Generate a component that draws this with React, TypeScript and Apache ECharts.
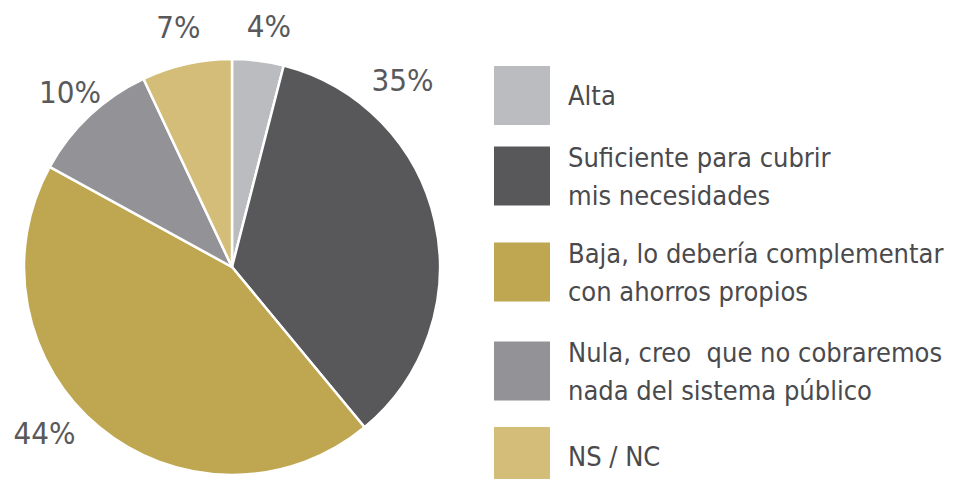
import React, { useEffect, useRef } from "react";
import * as echarts from "echarts";

const categories = [
  "Alta",
  "Suficiente para cubrir\nmis necesidades",
  "Baja, lo debería complementar\ncon ahorros propios",
  "Nula, creo  que no cobraremos\nnada del sistema público",
  "NS / NC",
];
const values = [4, 35, 44, 10, 7];
const colors = ["#bbbcc0", "#58585b", "#bfa651", "#939397", "#d3bd78"];
const legendTops = [64, 138, 234, 333, 425];

const FONT = "'DejaVu Sans Condensed', 'Liberation Sans Narrow', sans-serif";

export default function App() {
  const ref = useRef<HTMLDivElement>(null);
  useEffect(() => {
    document.body.style.margin = "0";
    const chart = echarts.init(ref.current!, null, { renderer: "svg" });
    const data = categories.map((name, i) => ({
      name,
      value: values[i],
      itemStyle: { color: colors[i] },
    }));
    const labelShift: Record<number, [number, number]> = {
      0: [6, 3],
      1: [-69, -133],
      2: [-31, -23],
      3: [6, 4],
    };
    chart.setOption({
      animation: false,
      legend: categories.map((name, i) => ({
        data: [name],
        orient: "vertical",
        left: 492,
        top: legendTops[i],
        padding: 0,
        icon: "rect",
        itemWidth: 58,
        itemHeight: 61,
        selectedMode: false,
        textStyle: {
          fontFamily: FONT,
          fontSize: 27,
          lineHeight: 38,
          color: "#4a4a4c",
          padding: [0, 0, 0, 12],
        },
      })),
      series: [
        {
          type: "pie",
          center: [232, 267],
          radius: 208,
          startAngle: 90,
          clockwise: true,
          data,
          label: { show: false },
          labelLine: { show: false },
          itemStyle: { borderColor: "#ffffff", borderWidth: 2.5 },
          emphasis: { disabled: true },
        },
        {
          type: "pie",
          center: [232, 267],
          radius: [225, 260],
          startAngle: 90,
          clockwise: true,
          silent: true,
          legendHoverLink: false,
          data: categories.map((name, i) => ({ name, value: values[i] })),
          itemStyle: { color: "rgba(0,0,0,0)" },
          label: {
            show: true,
            position: "inside",
            formatter: "{c}%",
            fontFamily: FONT,
            fontSize: 31,
            color: "#59595b",
          },
          labelLine: { show: false },
          labelLayout: (p: any) => {
            const s = labelShift[p.dataIndex];
            return s ? { dx: s[0], dy: s[1] } : {};
          },
          emphasis: { disabled: true },
        },
      ],
    });
    return () => chart.dispose();
  }, []);
  return <div ref={ref} style={{ width: 955, height: 479 }} />;
}
